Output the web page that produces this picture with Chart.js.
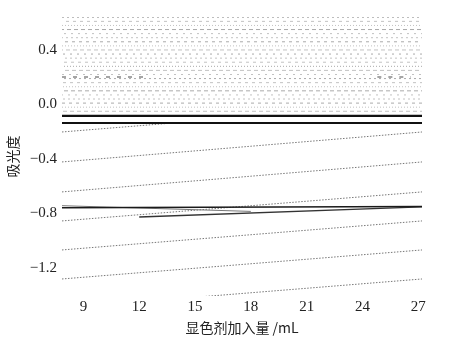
<!DOCTYPE html>
<html>
<head>
<meta charset="utf-8">
<script src="https://cdn.jsdelivr.net/npm/chart.js@4"></script>
<style>
  html, body { margin: 0; padding: 0; background: #fff; }
  #wrap { width: 472px; height: 337px; }
</style>
</head>
<body>
<div id="wrap"><canvas id="absChart" width="472" height="337"></canvas></div>
<script>
// axis ticks
const xTicks = [9, 12, 15, 18, 21, 24, 27];
const yTicks = [-1.2, -0.8, -0.4, 0.0, 0.4];
const xSpan = [7.85, 27.2];

// two heavy horizontal lines just below 0
const heavyRows = [-0.084, -0.136];

// dense faint rows filling the upper band
const hazeRows = [0.64, 0.61, 0.58, 0.55, 0.52, 0.49, 0.46, 0.43, 0.40, 0.37, 0.34, 0.31,
                  0.28, 0.25, 0.22, 0.19, 0.16, 0.13, 0.10, 0.07, 0.04, 0.01, -0.02, -0.05];

// darker dashed row at ~0.2 (two short pieces)
const dashRowY = 0.202;
const dashPieceA = [7.85, 12.5];
const dashPieceB = [24.8, 26.6];

// rising dotted lines in the lower band: left value, right value, right x
const dotLeft   = [-0.202, -0.422, -0.642, -0.855, -1.068, -1.281, -1.494];
const dotRight  = [-0.134, -0.202, -0.422, -0.642, -0.855, -1.068, -1.281];
const dotRightX = [14.0, 27.2, 27.2, 27.2, 27.2, 27.2, 27.2];

// solid lines crossing near -0.8
const lineAx = [7.85, 27.2], lineAy = [-0.758, -0.749];
const lineBx = [7.85, 18.0], lineBy = [-0.743, -0.785];
const lineCx = [12.0, 27.2], lineCy = [-0.826, -0.752];

// dash patterns cycled over the haze rows
const hazeDashes = [[2, 3], [3, 4], [1, 2], [4, 3], [2, 5]];

function seg(xs, ys) {
  return xs.map((x, i) => ({ x: x, y: ys[i] }));
}

const datasets = [];

heavyRows.forEach(v => {
  datasets.push({ data: seg(xSpan, [v, v]), borderColor: "#111", borderWidth: 2.2 });
});

datasets.push({ data: seg(lineAx, lineAy), borderColor: "#1a1a1a", borderWidth: 1.6 });
datasets.push({ data: seg(lineBx, lineBy), borderColor: "#777", borderWidth: 1 });
datasets.push({ data: seg(lineCx, lineCy), borderColor: "#333", borderWidth: 1.4 });

dotLeft.forEach((v, i) => {
  datasets.push({
    data: seg([xSpan[0], dotRightX[i]], [v, dotRight[i]]),
    borderColor: "#777", borderWidth: 1, borderDash: [1.5, 1.5]
  });
});

datasets.push({ data: seg(dashPieceA, [dashRowY, dashRowY]), borderColor: "#888", borderWidth: 1.5, borderDash: [4, 7] });
datasets.push({ data: seg(dashPieceB, [dashRowY, dashRowY]), borderColor: "#888", borderWidth: 1.5, borderDash: [4, 7] });

hazeRows.forEach((v, i) => {
  datasets.push({
    data: seg(xSpan, [v, v]),
    borderColor: i % 3 === 0 ? "#aaa" : "#c2c2c2", borderWidth: 1,
    borderDash: hazeDashes[i % hazeDashes.length], borderDashOffset: (i * 3) % 7
  });
});

datasets.forEach(d => {
  d.showLine = true;
  d.pointRadius = 0;
  d.fill = false;
});

const serif = { family: "'Liberation Serif', 'DejaVu Serif', serif", size: 15 };
const cjk = { family: "'Noto Sans CJK SC', sans-serif", size: 14 };

new Chart(document.getElementById("absChart"), {
  type: "scatter",
  data: { datasets: datasets },
  options: {
    responsive: false,
    animation: false,
    layout: { padding: { top: 17, right: 50, left: 0, bottom: 0 } },
    plugins: { legend: { display: false }, tooltip: { enabled: false } },
    scales: {
      x: {
        min: xSpan[0], max: xSpan[1],
        grid: { display: false, drawTicks: false },
        border: { display: false },
        afterBuildTicks: s => { s.ticks = xTicks.map(v => ({ value: v })); },
        afterFit: s => { s.height = 41; },
        ticks: { color: "#222", font: serif, padding: 2, maxRotation: 0 },
        title: { display: true, text: "显色剂加入量 /mL", color: "#222", font: cjk, padding: { top: 0, bottom: 1 } }
      },
      y: {
        min: -1.406, max: 0.642,
        grid: { display: false, drawTicks: false },
        border: { display: false },
        afterBuildTicks: s => { s.ticks = yTicks.map(v => ({ value: v })); },
        afterFit: s => { s.width = 62; },
        ticks: {
          color: "#222", font: serif, padding: 5,
          callback: v => (v < 0 ? "\u2212" : "") + Math.abs(v).toFixed(1)
        },
        title: { display: true, text: "吸光度", color: "#222", font: cjk, padding: { top: 4, bottom: 0 } }
      }
    }
  }
});
</script>
</body>
</html>
